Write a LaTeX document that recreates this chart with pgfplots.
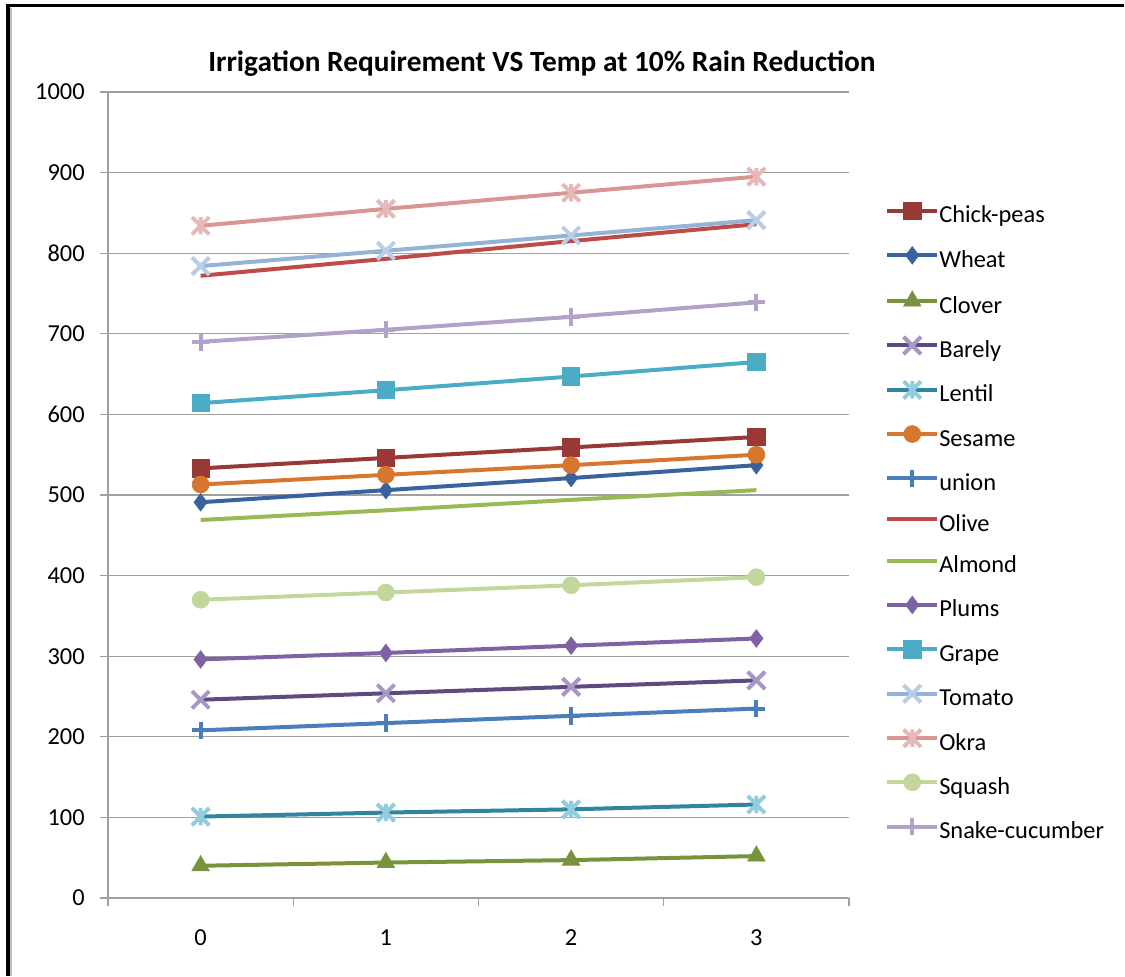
\documentclass[border=0pt]{standalone}
\usepackage{pgfplots}
\pgfplotsset{compat=1.18}
\usepackage{fontspec}
\setmainfont{Carlito}

% series colours
\definecolor{cChick}{HTML}{983936}
\definecolor{cWheat}{HTML}{3A629C}
\definecolor{cClover}{HTML}{77933C}
\definecolor{cBarely}{HTML}{5F4A80}
\definecolor{cBarelyM}{HTML}{A697C4}
\definecolor{cLentil}{HTML}{31859C}
\definecolor{cLentilM}{HTML}{93CDDD}
\definecolor{cSesame}{HTML}{D7772F}
\definecolor{cUnion}{HTML}{4A7EBB}
\definecolor{cOlive}{HTML}{BE4B48}
\definecolor{cAlmond}{HTML}{98B954}
\definecolor{cPlums}{HTML}{7F62A3}
\definecolor{cGrape}{HTML}{4BACC6}
\definecolor{cTomato}{HTML}{95B3D7}
\definecolor{cTomatoM}{HTML}{B9CDE5}
\definecolor{cOkra}{HTML}{D99694}
\definecolor{cOkraM}{HTML}{E6B9B8}
\definecolor{cSquash}{HTML}{C3D69B}
\definecolor{cSnake}{HTML}{B3A2C7}
\definecolor{gridgray}{HTML}{A0A0A0}

% Excel-like star: a cross with a vertical stroke
\pgfdeclareplotmark{xstar}{%
  \pgfpathmoveto{\pgfqpoint{0pt}{\pgfplotmarksize}}%
  \pgfpathlineto{\pgfqpoint{0pt}{-\pgfplotmarksize}}%
  \pgfpathmoveto{\pgfqpoint{-\pgfplotmarksize}{-\pgfplotmarksize}}%
  \pgfpathlineto{\pgfqpoint{\pgfplotmarksize}{\pgfplotmarksize}}%
  \pgfpathmoveto{\pgfqpoint{-\pgfplotmarksize}{\pgfplotmarksize}}%
  \pgfpathlineto{\pgfqpoint{\pgfplotmarksize}{-\pgfplotmarksize}}%
  \pgfusepathqstroke}
% Excel-like cross reaching the corners of the marker box
\pgfdeclareplotmark{bx}{%
  \pgfpathmoveto{\pgfqpoint{-\pgfplotmarksize}{-\pgfplotmarksize}}%
  \pgfpathlineto{\pgfqpoint{\pgfplotmarksize}{\pgfplotmarksize}}%
  \pgfpathmoveto{\pgfqpoint{-\pgfplotmarksize}{\pgfplotmarksize}}%
  \pgfpathlineto{\pgfqpoint{\pgfplotmarksize}{-\pgfplotmarksize}}%
  \pgfusepathqstroke}

\pgfplotsset{
  ser/.style={line width=3pt, color=#1},
  fillmark/.style 2 args={ser=#1, mark=#2, mark size=6.5pt,
     mark options={solid, line width=0.6pt, draw=#1, fill=#1}},
  thinmark/.style 2 args={ser=#1, mark=#2, mark size=6.5pt,
     mark options={solid, line width=0.6pt}},
}

\begin{document}
\begin{tikzpicture}[x=0.75pt,y=0.75pt]
\useasboundingbox (0,0) rectangle (1125,976);
% chart frame: left edge and top edge
\fill[gridgray!70] (10,0) rectangle (12,968);
\fill[black] (6,0) rectangle (10,972);
\fill[black] (6,969) rectangle (1124,972);
% title
\node[font=\fontsize{22}{26}\selectfont\bfseries] at (542,912)
  {Irrigation Requirement VS Temp at 10\% Rain Reduction};

\begin{axis}[
  at={(81pt,58.5pt)}, anchor=south west,
  scale only axis, width=555.75pt, height=604.5pt,
  xmin=-0.5, xmax=3.5, ymin=0, ymax=1000,
  xtick={-0.5,0.5,1.5,2.5,3.5}, xticklabels={,,,,},
  extra x ticks={0,1,2,3}, extra x tick labels={0,1,2,3},
  extra x tick style={major tick length=0pt,
    xticklabel style={yshift=-20pt}},
  ytick={0,100,...,1000},
  yticklabel style={xshift=-8pt},
  ymajorgrids,
  major grid style={gridgray, line width=1pt},
  axis x line*=bottom, axis y line*=left,
  axis line style={gridgray, line width=1pt, -},
  tick align=outside, major tick length=6pt,
  tick style={gridgray, line width=1pt},
  tick label style={font=\fontsize{18.3}{21}\selectfont, black,
    /pgf/number format/assume math mode=true,
    /pgf/number format/set thousands separator={}},
  legend cell align=left,
  legend style={draw=none, fill=none, at={(1.0486,0.8635)}, anchor=north west,
    inner sep=0pt, row sep=13.8pt,
    font=\fontsize{18.3}{21}\selectfont,
    nodes={inner sep=0pt, text height=13pt, text depth=4pt},
    /tikz/every even column/.append style={column sep=3pt}},
  legend image code/.code={%
    \draw[mark repeat=2, mark phase=2, #1]
      plot coordinates {(0pt,4.5pt) (18.75pt,4.5pt) (37.5pt,4.5pt)};},
]
\addplot[fillmark={cChick}{square*}, mark size=6.5pt] coordinates {(0,533) (1,546) (2,559) (3,572)};
\addlegendentry{Chick-peas}
\addplot[fillmark={cWheat}{diamond*}, mark size=6.5pt] coordinates {(0,491) (1,506) (2,521) (3,537)};
\addlegendentry{Wheat}
\addplot[fillmark={cClover}{triangle*}, mark size=7.5pt] coordinates {(0,40) (1,44) (2,47) (3,52)};
\addlegendentry{Clover}
\addplot[thinmark={cBarely}{bx}, mark options={draw=cBarelyM}] coordinates {(0,246) (1,254) (2,262) (3,270)};
\addlegendentry{Barely}
\addplot[thinmark={cLentil}{xstar}, mark options={draw=cLentilM}] coordinates {(0,101) (1,106) (2,110) (3,116)};
\addlegendentry{Lentil}
\addplot[fillmark={cSesame}{*}, mark size=6.3pt] coordinates {(0,513) (1,525) (2,537) (3,550)};
\addlegendentry{Sesame}
\addplot[thinmark={cUnion}{+}, mark options={draw=cUnion}] coordinates {(0,208) (1,217) (2,226) (3,235)};
\addlegendentry{union}
\addplot[ser=cOlive] coordinates {(0,772) (1,793) (2,815) (3,836)};
\addlegendentry{Olive}
\addplot[ser=cAlmond] coordinates {(0,469) (1,481) (2,494) (3,506)};
\addlegendentry{Almond}
\addplot[fillmark={cPlums}{diamond*}, mark size=6.5pt] coordinates {(0,296) (1,304) (2,313) (3,322)};
\addlegendentry{Plums}
\addplot[fillmark={cGrape}{square*}, mark size=6.5pt] coordinates {(0,614) (1,630) (2,647) (3,665)};
\addlegendentry{Grape}
\addplot[thinmark={cTomato}{bx}, mark options={draw=cTomatoM}] coordinates {(0,784) (1,803) (2,822) (3,841)};
\addlegendentry{Tomato}
\addplot[thinmark={cOkra}{xstar}, mark options={draw=cOkraM}] coordinates {(0,834) (1,855) (2,875) (3,895)};
\addlegendentry{Okra}
\addplot[fillmark={cSquash}{*}, mark size=6.3pt] coordinates {(0,370) (1,379) (2,388) (3,398)};
\addlegendentry{Squash}
\addplot[thinmark={cSnake}{+}, mark options={draw=cSnake}] coordinates {(0,690) (1,705) (2,721) (3,739)};
\addlegendentry{Snake-cucumber}
\end{axis}
\end{tikzpicture}
\end{document}
